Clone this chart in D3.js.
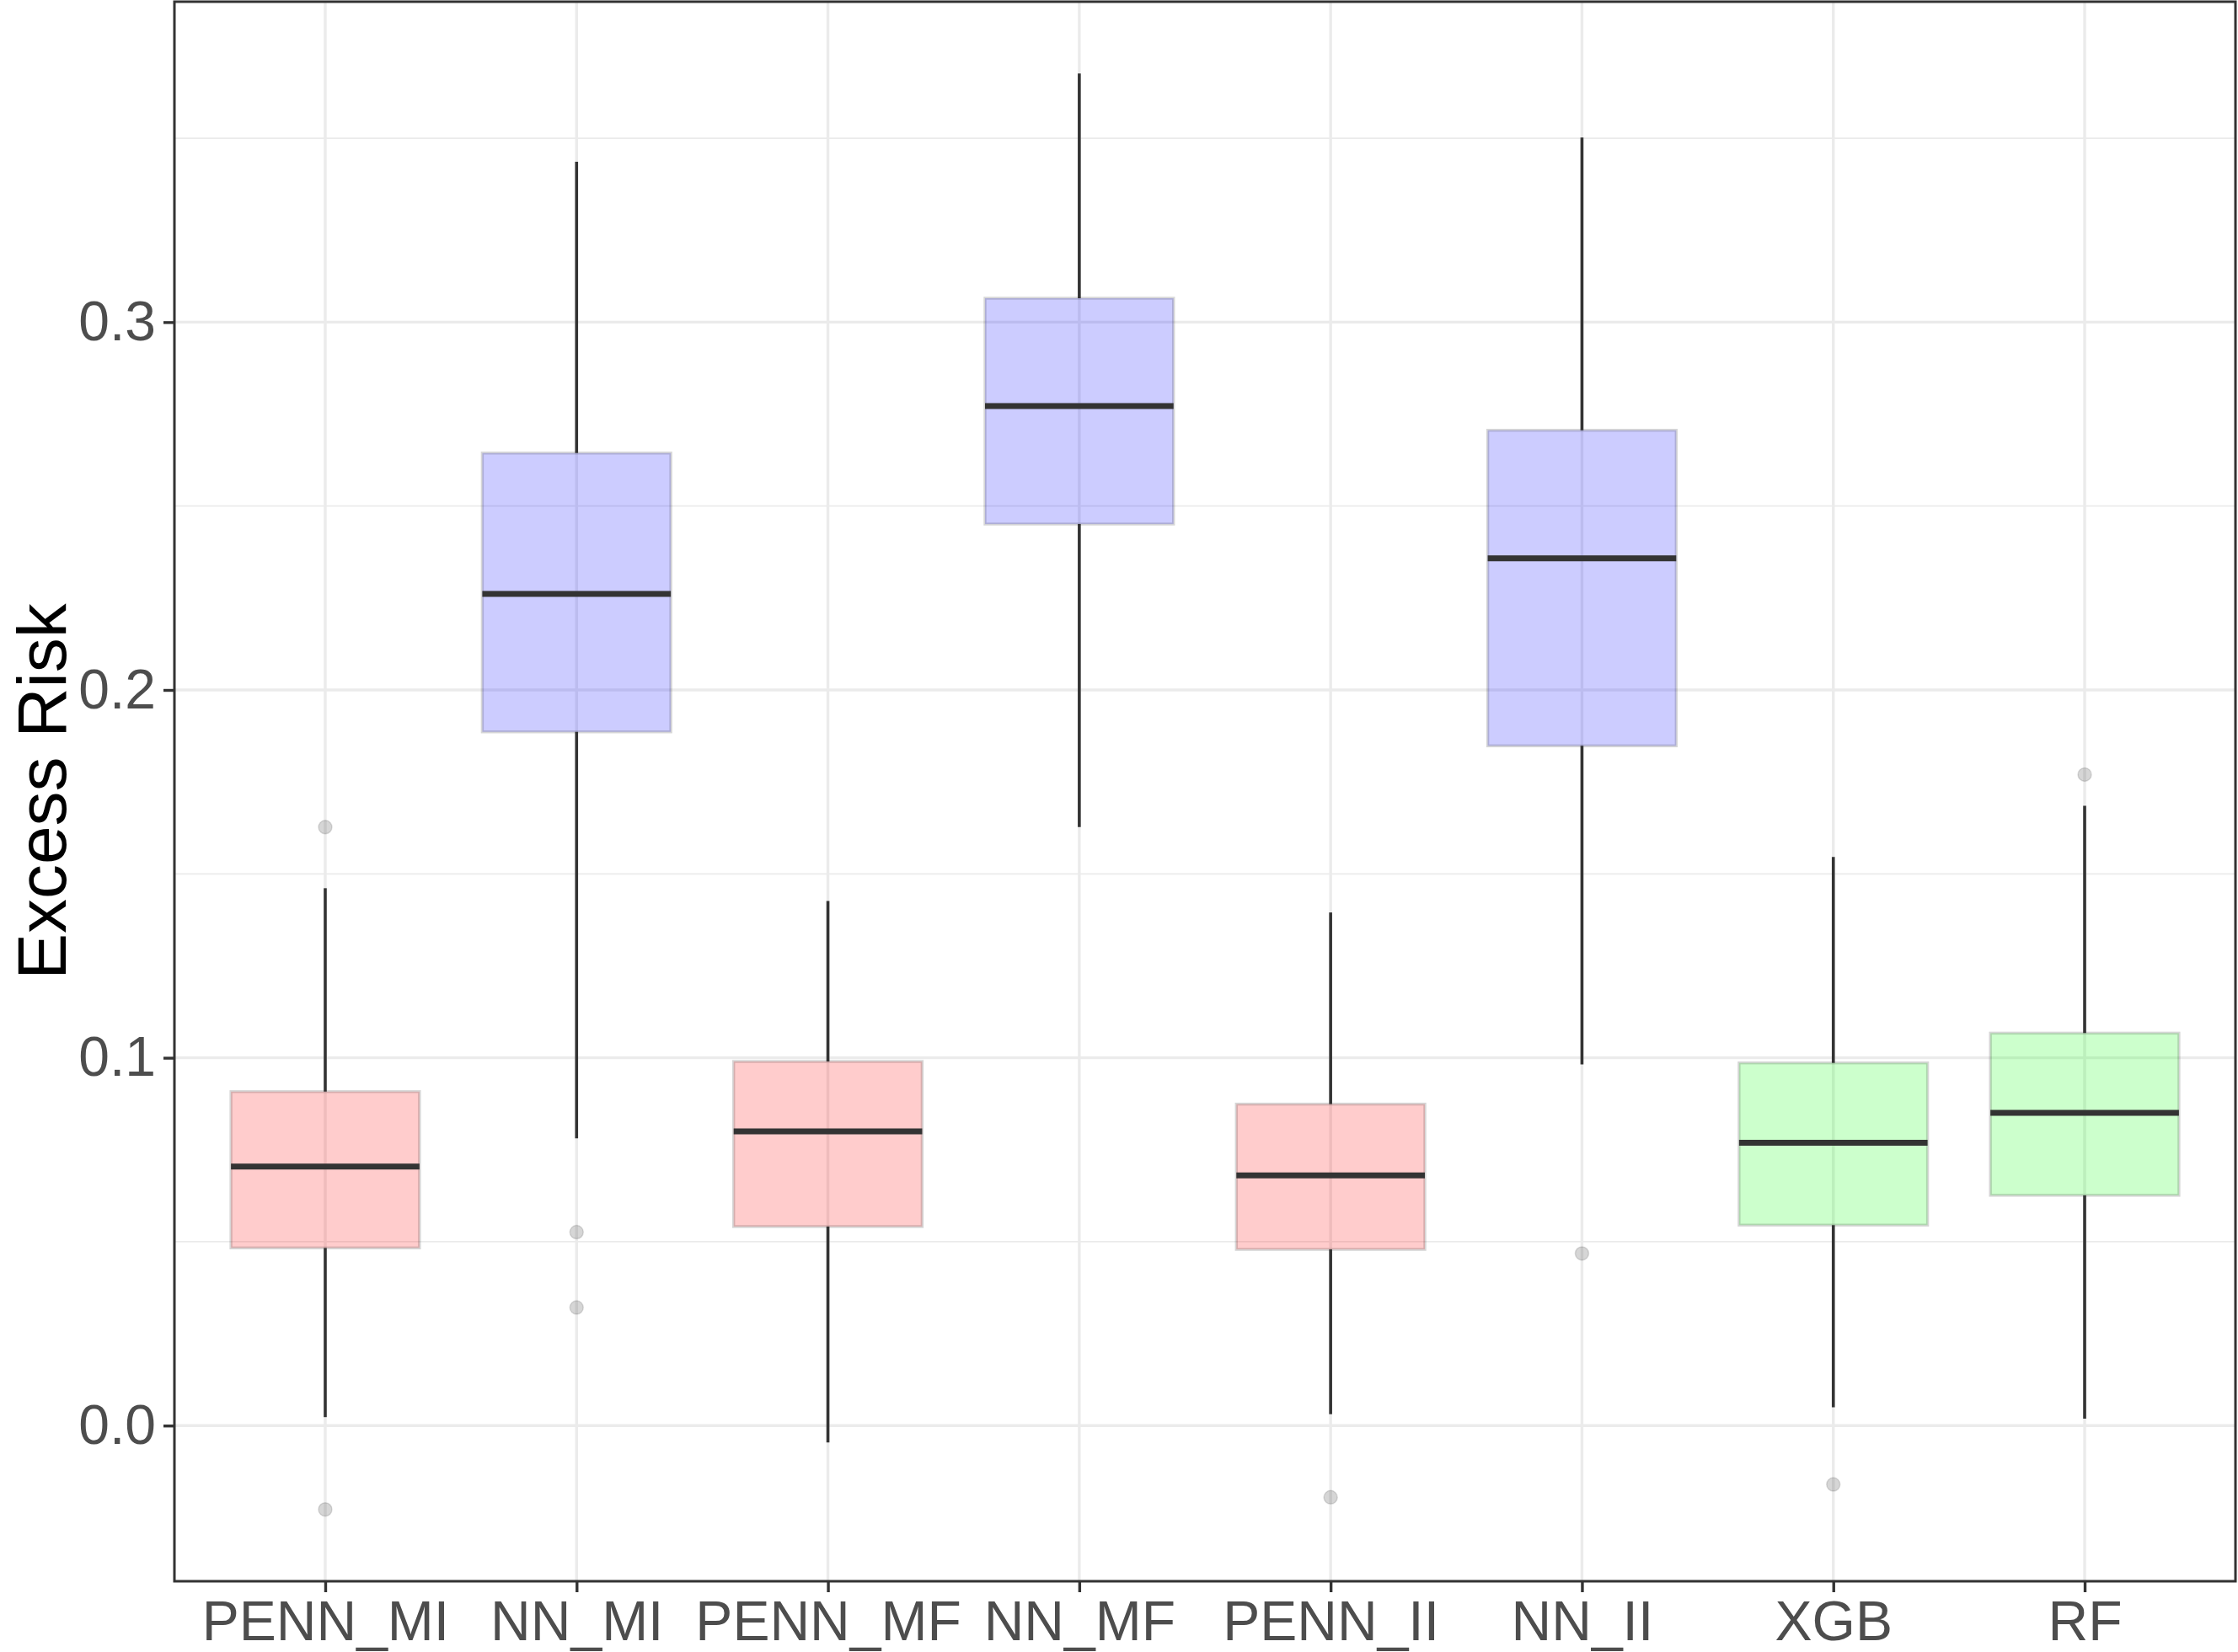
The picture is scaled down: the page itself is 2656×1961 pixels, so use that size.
<!DOCTYPE html>
<html>
<head>
<meta charset="utf-8">
<script src="https://cdn.jsdelivr.net/npm/d3@7"></script>
<style>
  body { margin: 0; background: #fff; }
  text { font-family: "Liberation Sans", Arial, Helvetica, sans-serif; }
</style>
</head>
<body>
<div id="viz"></div>
<script>
// box stats per model: lower whisker, Q1, median, Q3, upper whisker
const models = ['PENN_MI', 'NN_MI', 'PENN_MF', 'NN_MF', 'PENN_II', 'NN_II', 'XGB', 'RF'];
const groups = ['PENN', 'NN', 'PENN', 'NN', 'PENN', 'NN', 'TREE', 'TREE'];
const whiskerLow  = [0.0023, 0.0781, -0.0046, 0.1627, 0.0031, 0.0982, 0.0050, 0.0019];
const q1          = [0.0483, 0.1886, 0.0541, 0.2451, 0.0479, 0.1848, 0.0545, 0.0626];
const medians     = [0.0704, 0.2261, 0.0800, 0.2772, 0.0680, 0.2358, 0.0769, 0.0850];
const q3          = [0.0908, 0.2644, 0.0990, 0.3065, 0.0874, 0.2706, 0.0986, 0.1067];
const whiskerHigh = [0.1461, 0.3436, 0.1426, 0.3676, 0.1395, 0.3502, 0.1546, 0.1685];
const outliers = [
  [0.1627, -0.0228],
  [0.0526, 0.0321],
  [],
  [],
  [-0.0195],
  [0.0468],
  [-0.0160],
  [0.1770]
];
const yTicks = [0.0, 0.1, 0.2, 0.3];
const yMinor = [0.05, 0.15, 0.25, 0.35];

const groupFill = { PENN: '#ff0000', NN: '#0000ff', TREE: '#00ff00' };

const width = 2656;
const height = 1961;
const panel = { left: 207, right: 2653, top: 2, bottom: 1877 };

const data = models.map((m, i) => ({
  model: m,
  group: groups[i],
  lo: whiskerLow[i], q1: q1[i], med: medians[i], q3: q3[i], hi: whiskerHigh[i],
  out: outliers[i],
}));

const svg = d3.select('#viz')
  .append('svg')
  .attr('width', width)
  .attr('height', height);

// y range like ggplot: data extent plus 5%
const allVals = data.flatMap(d => [d.lo, d.hi, ...d.out]);
const [vMin, vMax] = d3.extent(allVals);
const pad = (vMax - vMin) * 0.05;

const y = d3.scaleLinear()
  .domain([vMin - pad, vMax + pad])
  .range([panel.bottom, panel.top]);

const x = d3.scalePoint()
  .domain(models)
  .range([panel.left, panel.right])
  .padding(0.6);

const boxW = x.step() * 0.75;

svg.append('rect')
  .attr('x', panel.left).attr('y', panel.top)
  .attr('width', panel.right - panel.left)
  .attr('height', panel.bottom - panel.top)
  .attr('fill', '#fff');

// grid
const grid = svg.append('g');
grid.selectAll('.minor')
  .data(yMinor.filter(v => y(v) > panel.top && y(v) < panel.bottom))
  .enter().append('line')
  .attr('x1', panel.left).attr('x2', panel.right)
  .attr('y1', d => y(d)).attr('y2', d => y(d))
  .attr('stroke', '#ebebeb').attr('stroke-width', 1.7);
grid.selectAll('.majorY')
  .data(yTicks)
  .enter().append('line')
  .attr('x1', panel.left).attr('x2', panel.right)
  .attr('y1', d => y(d)).attr('y2', d => y(d))
  .attr('stroke', '#ebebeb').attr('stroke-width', 3.4);
grid.selectAll('.majorX')
  .data(models)
  .enter().append('line')
  .attr('x1', d => x(d)).attr('x2', d => x(d))
  .attr('y1', panel.top).attr('y2', panel.bottom)
  .attr('stroke', '#ebebeb').attr('stroke-width', 3.4);

// boxes
const boxes = svg.append('g').selectAll('g.box')
  .data(data)
  .enter().append('g')
  .attr('class', 'box');

boxes.append('line')
  .attr('x1', d => x(d.model)).attr('x2', d => x(d.model))
  .attr('y1', d => y(d.q3)).attr('y2', d => y(d.hi))
  .attr('stroke', '#333').attr('stroke-width', 3.6);
boxes.append('line')
  .attr('x1', d => x(d.model)).attr('x2', d => x(d.model))
  .attr('y1', d => y(d.q1)).attr('y2', d => y(d.lo))
  .attr('stroke', '#333').attr('stroke-width', 3.6);

boxes.append('rect')
  .attr('x', d => x(d.model) - boxW / 2)
  .attr('width', boxW)
  .attr('y', d => y(d.q3))
  .attr('height', d => y(d.q1) - y(d.q3))
  .attr('fill', d => groupFill[d.group])
  .attr('fill-opacity', 0.2)
  .attr('stroke', '#333')
  .attr('stroke-opacity', 0.2)
  .attr('stroke-width', 3.4);

boxes.append('line')
  .attr('x1', d => x(d.model) - boxW / 2)
  .attr('x2', d => x(d.model) + boxW / 2)
  .attr('y1', d => y(d.med)).attr('y2', d => y(d.med))
  .attr('stroke', '#333').attr('stroke-width', 7);

boxes.selectAll('circle')
  .data(d => d.out.map(v => ({ model: d.model, v })))
  .enter().append('circle')
  .attr('cx', d => x(d.model))
  .attr('cy', d => y(d.v))
  .attr('r', 8)
  .attr('fill', '#333')
  .attr('fill-opacity', 0.2)
  .attr('stroke', '#333')
  .attr('stroke-opacity', 0.15)
  .attr('stroke-width', 1.5);

// panel border
svg.append('rect')
  .attr('x', panel.left).attr('y', panel.top)
  .attr('width', panel.right - panel.left)
  .attr('height', panel.bottom - panel.top)
  .attr('fill', 'none')
  .attr('stroke', '#333')
  .attr('stroke-width', 3);

// axes
const yAxis = d3.axisLeft(y)
  .tickValues(yTicks)
  .tickFormat(d3.format('.1f'))
  .tickSize(13)
  .tickPadding(9);

svg.append('g')
  .attr('transform', `translate(${panel.left}, 0)`)
  .call(yAxis)
  .call(g => g.select('.domain').remove())
  .call(g => g.selectAll('line').attr('stroke', '#333').attr('stroke-width', 3.4))
  .call(g => g.selectAll('text')
    .attr('fill', '#4d4d4d')
    .style('font-size', '66px'));

const xAxis = d3.axisBottom(x)
  .tickSize(13)
  .tickPadding(10);

svg.append('g')
  .attr('transform', `translate(0, ${panel.bottom})`)
  .call(xAxis)
  .call(g => g.select('.domain').remove())
  .call(g => g.selectAll('line').attr('stroke', '#333').attr('stroke-width', 3.4))
  .call(g => g.selectAll('text')
    .attr('fill', '#4d4d4d')
    .style('font-size', '66px'));

svg.append('text')
  .attr('transform', `translate(78, ${(panel.top + panel.bottom) / 2}) rotate(-90)`)
  .attr('text-anchor', 'middle')
  .attr('fill', '#000')
  .style('font-size', '82px')
  .text('Excess Risk');
</script>
</body>
</html>
